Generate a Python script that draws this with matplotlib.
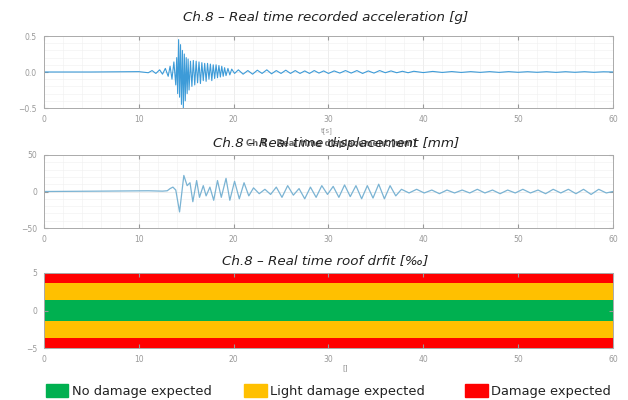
import matplotlib.pyplot as plt
from matplotlib.patches import Rectangle
from matplotlib.ticker import MultipleLocator

# acceleration record [g]
acc_time = [0, 5, 10, 11, 11.4, 11.8, 12.2, 12.5, 12.8, 13.1,
            13.3, 13.5, 13.7, 13.9, 14.0, 14.1, 14.2, 14.3, 14.4, 14.5,
            14.6, 14.7, 14.8, 14.9, 15.0, 15.1, 15.2, 15.3, 15.45, 15.6,
            15.75, 15.9, 16.05, 16.2, 16.35, 16.5, 16.65, 16.8, 16.95, 17.1,
            17.25, 17.4, 17.55, 17.7, 17.85, 18.0, 18.15, 18.3, 18.45, 18.6,
            18.75, 18.9, 19.05, 19.2, 19.4, 19.6, 19.8, 20.1, 20.5, 21.0,
            21.5, 22.0, 22.5, 23.0, 23.5, 24.0, 24.5, 25.0, 25.5, 26.0,
            26.5, 27, 27.5, 28, 28.5, 29, 29.5, 30, 30.6, 31.2,
            31.8, 32.4, 33, 33.6, 34.2, 34.8, 35.4, 36, 36.6, 37.2,
            37.8, 38.4, 39, 40, 41, 42, 43, 44, 45, 46,
            47, 48, 49, 50, 51, 52, 53, 54, 55, 56,
            57, 58, 59, 60]
acc_value = [0, 0, 0.005, -0.01, 0.02, -0.02, 0.03, -0.03, 0.05, -0.06,
             0.08, -0.1, 0.14, -0.18, 0.2, -0.3, 0.45, -0.35, 0.38, -0.45,
             0.3, -0.5, 0.25, -0.4, 0.2, -0.3, 0.18, -0.25, 0.15, -0.2,
             0.16, -0.18, 0.15, -0.15, 0.14, -0.16, 0.13, -0.12, 0.12, -0.13,
             0.12, -0.1, 0.11, -0.12, 0.1, -0.09, 0.1, -0.08, 0.09, -0.07,
             0.08, -0.06, 0.06, -0.05, 0.05, -0.04, 0.04, -0.02, 0.03, -0.03,
             0.02, -0.03, 0.025, -0.02, 0.03, -0.025, 0.02, -0.02, 0.025, -0.02,
             0.02, -0.02, 0.015, -0.02, 0.02, -0.015, 0.015, -0.02, 0.015, -0.015,
             0.02, -0.015, 0.02, -0.02, 0.015, -0.015, 0.02, -0.01, 0.015, -0.01,
             0.01, -0.01, 0.01, -0.008, 0.008, -0.006, 0.006, -0.006, 0.005, -0.005,
             0.005, -0.005, 0.005, -0.004, 0.004, -0.004, 0.004, -0.005, 0.004, -0.004,
             0.004, -0.004, 0.003, 0]

# displacement record [mm]
disp_time = [0, 6, 11, 12.5, 13.0, 13.3, 13.6, 13.9, 14.3, 14.75,
             15.1, 15.4, 15.7, 16.1, 16.4, 16.8, 17.1, 17.5, 17.9, 18.3,
             18.7, 19.2, 19.6, 20.1, 20.6, 21.1, 21.6, 22.1, 22.7, 23.3,
             23.9, 24.5, 25.1, 25.7, 26.3, 26.9, 27.5, 28.1, 28.7, 29.3,
             29.9, 30.5, 31.1, 31.7, 32.3, 32.9, 33.5, 34.1, 34.7, 35.3,
             35.9, 36.5, 37.1, 37.7, 38.5, 39.3, 40.1, 40.9, 41.7, 42.5,
             43.3, 44.1, 44.9, 45.7, 46.5, 47.3, 48.1, 48.9, 49.7, 50.5,
             51.3, 52.1, 52.9, 53.7, 54.5, 55.3, 56.1, 56.9, 57.7, 58.5,
             59.3, 60]
disp_value = [0, 0.5, 1, 0.5, 1, 4, 6, 2, -28, 22,
              8, 12, -14, 15, -8, 8, -6, 6, -12, 15,
              -8, 18, -12, 14, -10, 12, -6, 5, -3, 3,
              -4, 6, -8, 8, -5, 4, -10, 6, -8, 8,
              -4, 7, -8, 9, -7, 8, -10, 8, -9, 10,
              -10, 8, -6, 3, -2, 3, -2, 2, -3, 2,
              -2, 2, -2, 3, -2, 2, -3, 2, -2, 3,
              -2, 2, -3, 3, -2, 3, -3, 3, -4, 3,
              -2, 0]

# roof drift thresholds [permille]
drift_edges = [-5, -3.7, -1.4, 1.4, 3.7, 5]
band_colors = ['#ff0000', '#ffc000', '#00b050', '#ffc000', '#ff0000']
legend_labels = ['No damage expected', 'Light damage expected', 'Damage expected']
legend_colors = ['#00b050', '#ffc000', '#ff0000']
x_ticks = [0, 10, 20, 30, 40, 50, 60]

fig = plt.figure(figsize=(6.28, 4), dpi=100)
ax1 = fig.add_axes([0.070, 0.730, 0.906, 0.180])
ax2 = fig.add_axes([0.070, 0.430, 0.906, 0.1825])
ax3 = fig.add_axes([0.070, 0.130, 0.906, 0.1875])


def style(ax, yt, grid=True):
    ax.set_xlim(0, 60)
    ax.set_xticks(x_ticks)
    ax.set_yticks(yt)
    ax.tick_params(labelsize=5.5, colors='#999999', direction='in', length=3,
                   top=True, right=True, pad=5)
    for s in ax.spines.values():
        s.set_color('#aaaaaa')
        s.set_linewidth(0.7)
    if grid:
        ax.xaxis.set_minor_locator(MultipleLocator(2))
        ax.yaxis.set_minor_locator(MultipleLocator(yt[-1] / 5))
        ax.grid(True, which='major', color='#e6e6e6', lw=0.5)
        ax.grid(True, which='minor', color='#f0f0f0', lw=0.4)
        ax.tick_params(which='minor', length=0)
        ax.set_axisbelow(True)


ax1.plot(acc_time, acc_value, color='#3d9bd8', lw=0.8)
ax1.set_ylim(-0.5, 0.5)
style(ax1, [-0.5, 0, 0.5])

ax2.plot(disp_time, disp_value, color='#7ab3d3', lw=0.9)
ax2.set_ylim(-50, 50)
style(ax2, [-50, 0, 50])

for i, c in enumerate(band_colors):
    ax3.axhspan(drift_edges[i], drift_edges[i + 1], color=c, lw=0)
ax3.set_ylim(-5, 5)
style(ax3, [-5, 0, 5], grid=False)

tfont = dict(fontsize=9.7, style='italic', color='#222222', ha='center')
fig.text(0.518, 0.947, 'Ch.8 – Real time recorded acceleration [g]', **tfont)
fig.text(0.527, 0.636, 'Ch.8 - Real time displacement [mm]', fontsize=6,
         weight='bold', color='#666666', ha='center')
fig.text(0.535, 0.632, 'Ch.8 – Real time displacement [mm]', **tfont)
fig.text(0.518, 0.340, 'Ch.8 – Real time roof drfit [‰]', **tfont)
fig.text(0.520, 0.670, 't[s]', fontsize=5, color='#999999', ha='center')
fig.text(0.549, 0.078, '[]', fontsize=5, color='#888888', ha='center')

lx = [0.073, 0.389, 0.741]
for x, lab, c in zip(lx, legend_labels, legend_colors):
    fig.patches.append(Rectangle((x, 0.008), 0.036, 0.033, color=c,
                                 transform=fig.transFigure))
    fig.text(x + 0.041, 0.012, lab, fontsize=9.4, color='#222222')

fig.savefig('out.png', dpi=100, facecolor='white')
